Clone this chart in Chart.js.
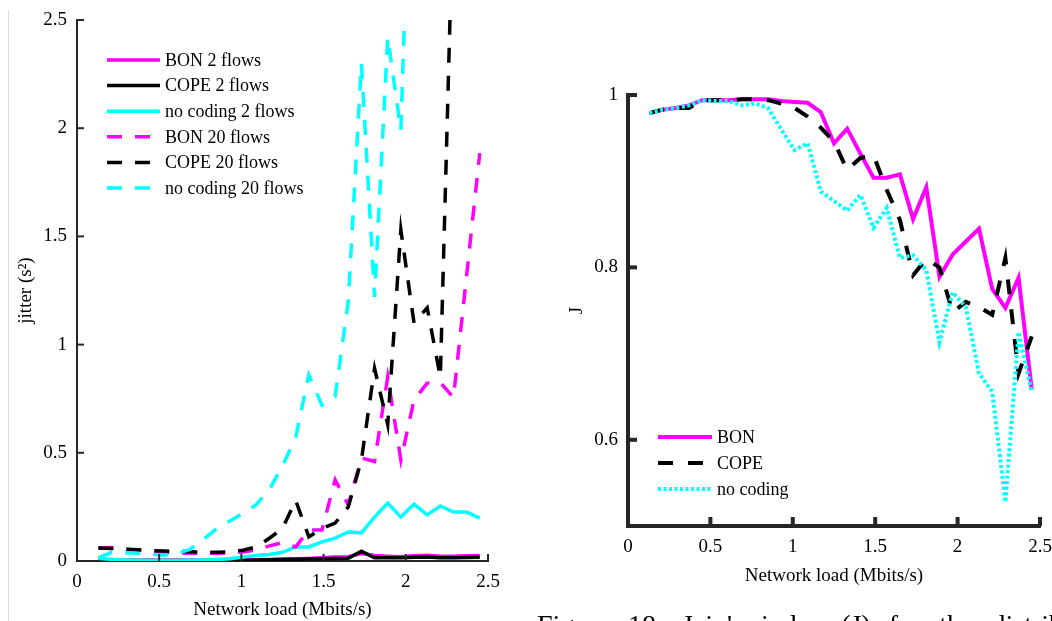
<!DOCTYPE html>
<html>
<head>
<meta charset="utf-8">
<script src="https://cdn.jsdelivr.net/npm/chart.js@4.4.1/dist/chart.umd.min.js"></script>
<style>
  body { margin: 0; background: #fff; width: 1052px; height: 621px; overflow: hidden; position: relative; font-family: 'Liberation Serif', 'Times New Roman', serif; }
  #jitterChart { position: absolute; left: 0; top: 0; }
  #jainChart { position: absolute; left: 530px; top: 0; }
  .edge { position: absolute; left: 8px; top: 10px; width: 1px; height: 611px; background: #dcdcdc; }
  .caption { position: absolute; left: 537px; top: 609px; font-size: 28px; line-height: 32px; white-space: nowrap; word-spacing: 11px; color: #000; }
</style>
</head>
<body>
<div class="edge"></div>
<canvas id="jitterChart" width="520" height="621"></canvas>
<canvas id="jainChart" width="522" height="621"></canvas>
<div class="caption">Figure 18: Jain's index (J) for the distribution</div>
<script>
// valeurs (charge réseau en Mbits/s)
const load = [0.13, 0.21, 0.29, 0.37, 0.45, 0.53, 0.61, 0.69, 0.77, 0.85, 0.93, 1.01, 1.09, 1.17, 1.25,
              1.33, 1.41, 1.49, 1.57, 1.65, 1.73, 1.81, 1.89, 1.97, 2.05, 2.13, 2.21, 2.29, 2.37, 2.45];

// jitter (s^2)
const jitterBon2 = [0.003, 0.003, 0.003, 0.003, 0.003, 0.003, 0.003, 0.003, 0.003, 0.003, 0.004, 0.005, 0.006, 0.007, 0.009,
                    0.010, 0.012, 0.015, 0.018, 0.020, 0.035, 0.025, 0.022, 0.020, 0.024, 0.027, 0.022, 0.022, 0.024, 0.025];
const jitterCope2 = [0.002, 0.002, 0.002, 0.002, 0.002, 0.002, 0.002, 0.002, 0.002, 0.002, 0.003, 0.004, 0.005, 0.006, 0.007,
                     0.008, 0.009, 0.010, 0.012, 0.013, 0.045, 0.015, 0.015, 0.015, 0.017, 0.019, 0.015, 0.015, 0.016, 0.017];
const jitterNone2 = [0.012, 0.008, 0.005, 0.003, 0.002, 0.002, 0.002, 0.003, 0.005, 0.007, 0.010, 0.018, 0.025, 0.030, 0.040,
                     0.065, 0.065, 0.088, 0.106, 0.134, 0.130, 0.203, 0.268, 0.203, 0.263, 0.213, 0.254, 0.226, 0.226, 0.198];
const jitterBon20 = [0.060, 0.062, 0.055, 0.050, 0.045, 0.040, 0.038, 0.036, 0.036, 0.036, 0.038, 0.042, 0.050, 0.070, 0.085,
                     0.065, 0.143, 0.143, 0.375, 0.260, 0.476, 0.460, 0.850, 0.466, 0.744, 0.822, 0.825, 0.755, 1.320, 1.885];
const jitterCope20 = [0.060, 0.058, 0.055, 0.052, 0.048, 0.046, 0.045, 0.043, 0.041, 0.040, 0.042, 0.050, 0.065, 0.105, 0.150,
                      0.280, 0.112, 0.150, 0.175, 0.250, 0.467, 0.890, 0.630, 1.530, 1.100, 1.170, 0.850, 3.100, null, null];
const jitterNone20 = [0.014, 0.040, 0.038, 0.036, 0.030, 0.027, 0.034, 0.055, 0.100, 0.150, 0.185, 0.220, 0.260, 0.330, 0.440,
                      0.570, 0.860, 0.720, 0.760, 1.200, 2.300, 1.220, 2.420, 1.990, 3.900, null, null, null, null, null];

// indice de Jain J
const jainBon = [0.979, 0.983, 0.985, 0.988, 0.994, 0.994, 0.994, 0.995, 0.995, 0.995, 0.993, 0.992, 0.991, 0.980, 0.944,
                 0.961, 0.932, 0.904, 0.904, 0.908, 0.856, 0.893, 0.789, 0.815, 0.830, 0.845, 0.775, 0.753, 0.788, 0.658];
const jainCope = [0.979, 0.983, 0.985, 0.985, 0.994, 0.994, 0.994, 0.995, 0.995, 0.994, 0.990, 0.985, 0.975, 0.962, 0.946,
                  0.913, 0.927, 0.930, 0.890, 0.855, 0.791, 0.810, 0.800, 0.748, 0.760, 0.754, 0.745, 0.811, 0.677, 0.720];
const jainNone = [0.979, 0.983, 0.985, 0.988, 0.994, 0.993, 0.993, 0.988, 0.990, 0.985, 0.960, 0.936, 0.944, 0.888, 0.877,
                  0.866, 0.884, 0.846, 0.869, 0.811, 0.814, 0.797, 0.713, 0.771, 0.754, 0.677, 0.656, 0.528, 0.725, 0.656];

const loadTicks = [0, 0.5, 1, 1.5, 2, 2.5];
const jitterTicks = [0, 0.5, 1, 1.5, 2, 2.5];
const jainTicks = [0.6, 0.8, 1];

const FONT = "'Liberation Serif', 'Times New Roman', serif";
const AXIS = '#262626';
const MAGENTA = '#ff00ff';
const CYAN = '#00ffff';

function pts(xs, ys) {
    return xs.map((x, i) => ({ x: x, y: ys[i] }));
}

// petits traits de graduation vers l'intérieur
const innerTicks = {
    id: 'innerTicks',
    afterDatasetsDraw(chart, args, opts) {
        const ctx = chart.ctx;
        const area = chart.chartArea;
        ctx.save();
        ctx.strokeStyle = AXIS;
        ctx.lineWidth = opts.width;
        chart.scales.x.ticks.forEach(t => {
            const px = chart.scales.x.getPixelForValue(t.value);
            ctx.beginPath();
            ctx.moveTo(px, area.bottom);
            ctx.lineTo(px, area.bottom - opts.length);
            ctx.stroke();
        });
        chart.scales.y.ticks.forEach(t => {
            const py = chart.scales.y.getPixelForValue(t.value);
            ctx.beginPath();
            ctx.moveTo(area.left, py);
            ctx.lineTo(area.left + opts.length, py);
            ctx.stroke();
        });
        ctx.restore();
    }
};

// légende à la MATLAB, dans la zone du graphe
const boxLegend = {
    id: 'boxLegend',
    afterDraw(chart, args, opts) {
        const ctx = chart.ctx;
        ctx.save();
        ctx.font = opts.font;
        ctx.textBaseline = 'middle';
        ctx.textAlign = 'left';
        chart.data.datasets.forEach((ds, i) => {
            const y = opts.y + i * opts.rowGap;
            ctx.strokeStyle = ds.borderColor;
            ctx.lineWidth = ds.borderWidth;
            ctx.setLineDash(ds.borderDash || []);
            ctx.beginPath();
            ctx.moveTo(opts.x, y);
            ctx.lineTo(opts.x + opts.lineLength, y);
            ctx.stroke();
            ctx.setLineDash([]);
            ctx.fillStyle = '#000';
            ctx.fillText(ds.label, opts.x + opts.lineLength + opts.gap, y + 1);
        });
        ctx.restore();
    }
};

function axisOptions(min, max, ticks, title, cfg) {
    return {
        type: 'linear',
        min: min,
        max: max,
        afterBuildTicks: s => { s.ticks = ticks.map(v => ({ value: v })); },
        afterFit: s => {
            if (s.isHorizontal()) { s.height = cfg.size; s.paddingLeft = 0; s.paddingRight = 0; }
            else { s.width = cfg.size; s.paddingTop = 0; s.paddingBottom = 0; }
        },
        grid: { display: false, drawTicks: false },
        border: { display: true, color: AXIS, width: cfg.axisWidth },
        ticks: {
            color: '#000',
            font: { family: FONT, size: 19 },
            padding: cfg.tickPad,
            maxRotation: 0,
            autoSkip: false,
            callback: v => String(v)
        },
        title: { display: true, text: title, color: '#000', font: { family: FONT, size: 19 }, padding: cfg.titlePad }
    };
}

function line(label, xs, ys, color, width, dash) {
    return {
        label: label,
        data: pts(xs, ys),
        borderColor: color,
        borderWidth: width,
        borderDash: dash,
        pointRadius: 0,
        tension: 0,
        fill: false,
        spanGaps: false
    };
}

const jitterSets = [
    line('BON 2 flows', load, jitterBon2, MAGENTA, 3.5, []),
    line('COPE 2 flows', load, jitterCope2, '#000', 3.5, []),
    line('no coding 2 flows', load, jitterNone2, CYAN, 3.5, []),
    line('BON 20 flows', load, jitterBon20, MAGENTA, 3.5, [15, 13]),
    line('COPE 20 flows', load, jitterCope20, '#000', 3.5, [15, 13]),
    line('no coding 20 flows', load, jitterNone20, CYAN, 3.5, [15, 13])
];
// la dernière série est dessinée au-dessus
jitterSets.forEach((d, i) => { d.order = jitterSets.length - i; });

new Chart(document.getElementById('jitterChart'), {
    type: 'line',
    data: { datasets: jitterSets },
    options: {
        responsive: false,
        animation: false,
        layout: { padding: { top: 20, right: 32, left: 0, bottom: 0 } },
        scales: {
            x: axisOptions(0, 2.5, loadTicks, 'Network load (Mbits/s)', { size: 60, axisWidth: 2, tickPad: 10, titlePad: { top: 0, bottom: 0 } }),
            y: axisOptions(0, 2.5, jitterTicks, 'jitter (s²)', { size: 77, axisWidth: 2, tickPad: 10, titlePad: { top: 15, bottom: 0 } })
        },
        plugins: {
            legend: { display: false },
            tooltip: { enabled: false },
            innerTicks: { length: 7, width: 2 },
            boxLegend: { x: 107, y: 60, rowGap: 25.6, lineLength: 53, gap: 5, font: '18px ' + FONT }
        }
    },
    plugins: [innerTicks, boxLegend]
});

const jainSets = [
    line('BON', load, jainBon, MAGENTA, 4, []),
    line('COPE', load, jainCope, '#000', 4, [15, 15]),
    line('no coding', load, jainNone, CYAN, 4, [3, 2.5])
];
jainSets.forEach((d, i) => { d.order = jainSets.length - i; });

new Chart(document.getElementById('jainChart'), {
    type: 'line',
    data: { datasets: jainSets },
    options: {
        responsive: false,
        animation: false,
        layout: { padding: { top: 95, right: 12, left: 0, bottom: 0 } },
        scales: {
            x: axisOptions(0, 2.5, loadTicks, 'Network load (Mbits/s)', { size: 95, axisWidth: 4, tickPad: 10, titlePad: { top: 0, bottom: 34 } }),
            y: axisOptions(0.5, 1, jainTicks, 'J', { size: 98, axisWidth: 4, tickPad: 10, titlePad: { top: 36, bottom: 0 } })
        },
        plugins: {
            legend: { display: false },
            tooltip: { enabled: false },
            innerTicks: { length: 9, width: 4 },
            boxLegend: { x: 128, y: 437, rowGap: 26, lineLength: 54, gap: 5, font: '18px ' + FONT }
        }
    },
    plugins: [innerTicks, boxLegend]
});
</script>
</body>
</html>
